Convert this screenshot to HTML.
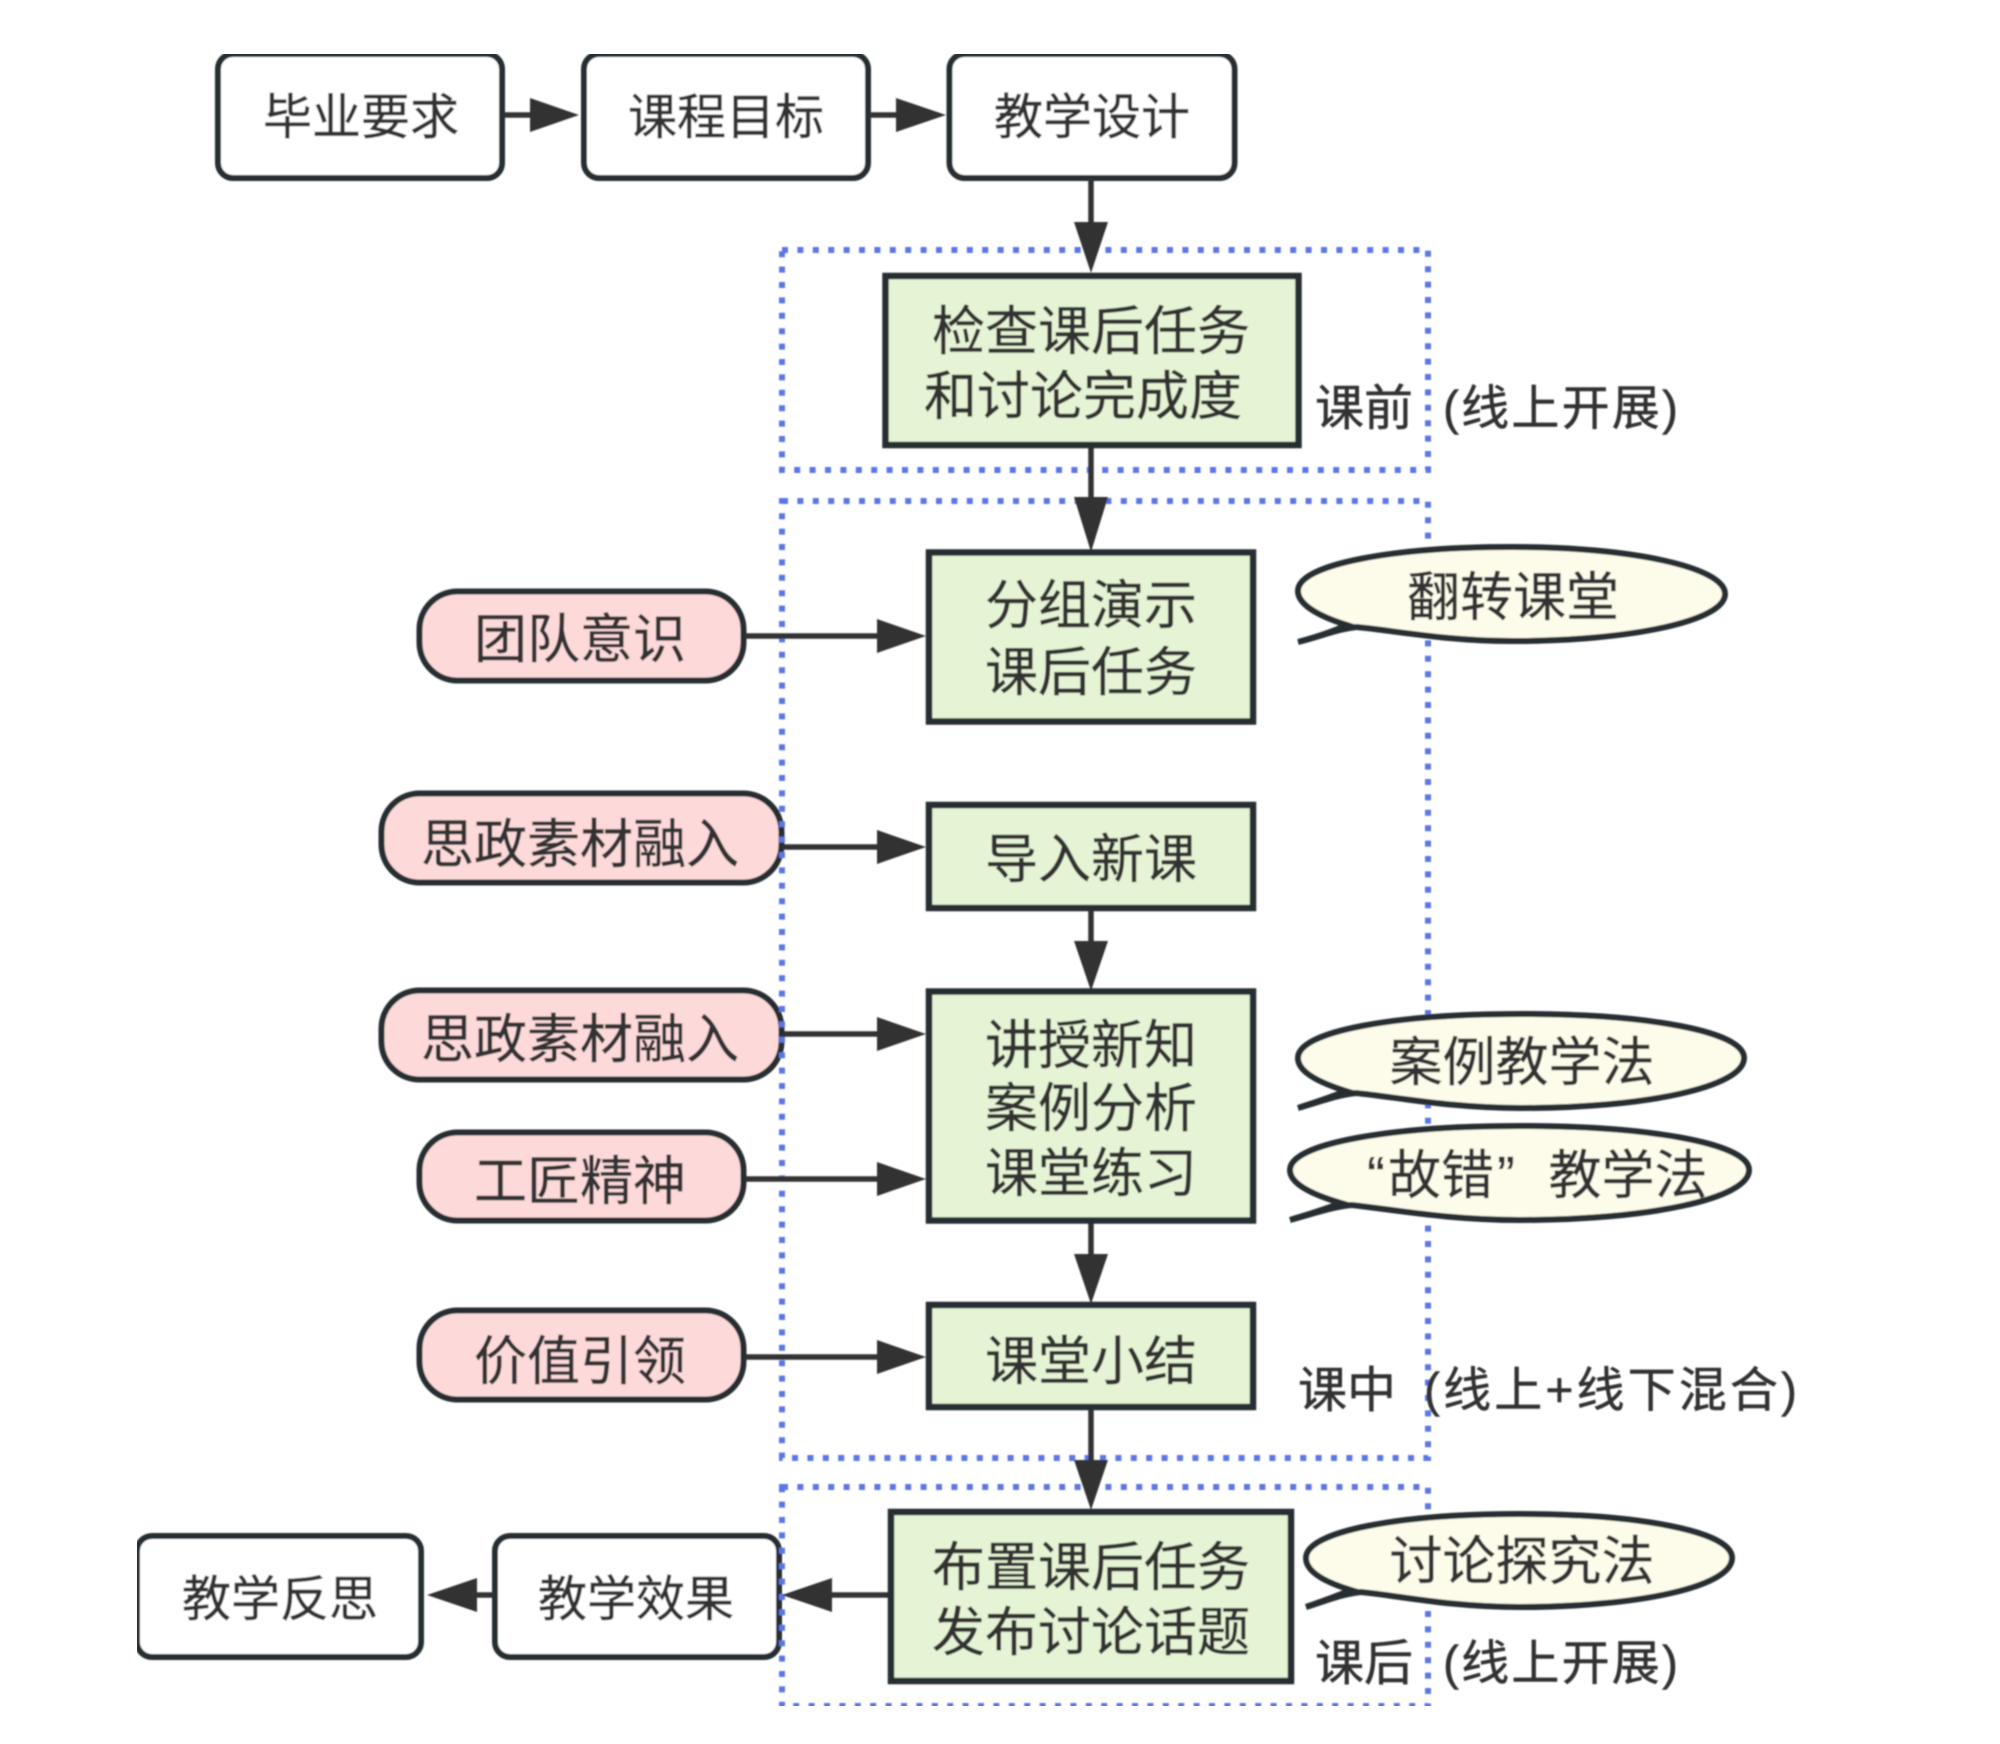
<!DOCTYPE html>
<html lang="zh">
<head>
<meta charset="utf-8">
<title>教学流程图</title>
<style>
html,body{margin:0;padding:0;background:#fff;width:2000px;height:1744px;overflow:hidden}
svg{display:block}
text{font-family:"Liberation Sans","Noto Sans CJK SC",sans-serif;font-size:53px;fill:#333;stroke:#333;stroke-width:.5;text-anchor:middle;dominant-baseline:central}
.s{font-size:49px}
.l{font-size:48px;text-anchor:start}
.m{font-size:49px;text-anchor:start}
.b{fill:#fff;stroke:#252d33;stroke-width:6}
.g{fill:#e4f4d4;stroke:#252d33;stroke-width:6.5}
.p{fill:#fdd9d9;stroke:#252d33;stroke-width:6}
.e{fill:#fdfbea;stroke:#252d33;stroke-width:6}
.d{fill:none;stroke:#5c76e6;stroke-width:6;stroke-dasharray:6 9.4}
.c{stroke:#333;stroke-width:5.5;fill:none}
.a{fill:#333}
</style>
</head>
<body>
<svg width="2000" height="1744" viewBox="0 0 2000 1744" xmlns="http://www.w3.org/2000/svg">
<defs><filter id="bl" x="0" y="0" width="100%" height="100%"><feGaussianBlur stdDeviation="0.9"/></filter></defs>
<rect width="2000" height="1744" fill="#fff"/>
<g filter="url(#bl)">
<!-- white boxes -->
<rect class="b" x="218" y="54" width="284" height="124" rx="15"/>
<rect class="b" x="584" y="54" width="284" height="124" rx="15"/>
<rect class="b" x="949.500" y="54" width="285" height="124" rx="15"/>
<rect class="b" x="137" y="1536" width="284" height="121" rx="15"/>
<rect class="b" x="495" y="1536" width="284" height="121" rx="15"/>

<!-- pink pills -->
<rect class="p" x="419.500" y="591.500" width="324" height="89" rx="38"/>
<rect class="p" x="381.500" y="793.500" width="400" height="89" rx="38"/>
<rect class="p" x="381.500" y="990.500" width="400" height="89" rx="38"/>
<rect class="p" x="419.500" y="1132.500" width="324" height="88" rx="38"/>
<rect class="p" x="419.500" y="1310.500" width="324" height="89" rx="38"/>

<!-- dotted groups -->
<rect class="d" x="782" y="250" width="646" height="220"/>
<rect class="d" x="782" y="501" width="646" height="957"/>
<rect class="d" x="782" y="1487" width="646" height="219"/>

<!-- connectors -->
<path class="c" d="M503 115H535M869 115H900M1091 178V230M1091 444V505M1091 908V945M1091 1220V1260M1091 1407V1465"/>
<path class="c" d="M745 636H880M783 847H880M783 1034H880M745 1179H880M745 1357H880M890 1595H830M494 1595H475"/>
<path class="a" d="M530 98L579 115L530 132ZM896 98L946 115L896 132Z"/>
<path class="a" d="M1074 222H1108L1091 273ZM1074 497H1108L1091 552ZM1074 941H1108L1091 991ZM1074 1254H1108L1091 1304ZM1074 1460H1108L1091 1510Z"/>
<path class="a" d="M877 619L926 636L877 653ZM877 830L926 847L877 864ZM877 1017L926 1034L877 1051ZM877 1162L926 1179L877 1196ZM877 1340L926 1357L877 1374Z"/>
<path class="a" d="M832 1578L782 1595L832 1612ZM477 1578L427 1595L477 1612Z"/>

<!-- green boxes -->
<rect class="g" x="885.500" y="276" width="413" height="169"/>
<rect class="g" x="929" y="552.500" width="324" height="169"/>
<rect class="g" x="929" y="805" width="324" height="103"/>
<rect class="g" x="929" y="991.500" width="324" height="229"/>
<rect class="g" x="929" y="1305" width="324" height="102"/>
<rect class="g" x="891" y="1512" width="400" height="169"/>

<!-- speech bubbles -->
<g transform="translate(-3,-3)"><path class="e" d="M1301 645C1320 640 1335 635 1350 628C1315 617 1301 605 1301 594C1301 567 1397 550 1515 550C1633 550 1728 570 1728 597C1728 624 1633 644 1515 644C1450 644 1400 634 1360 630C1340 632 1322 640 1301 645Z"/></g>
<g transform="translate(-9,-6)"><path class="e" d="M1307 1114C1322 1109 1338 1104 1355 1097C1320 1086 1307 1075 1307 1064C1307 1037 1405 1020 1530 1020C1655 1020 1753 1037 1753 1064C1753 1093 1655 1114 1530 1114C1460 1114 1405 1103 1365 1099C1345 1101 1325 1109 1307 1114Z"/></g>
<g transform="translate(-9,-9)"><path class="e" d="M1299 1229C1315 1224 1332 1219 1350 1212C1313 1201 1299 1190 1299 1179C1299 1152 1402 1135 1529 1135C1656 1135 1758 1152 1758 1179C1758 1208 1656 1229 1529 1229C1456 1229 1400 1218 1360 1214C1340 1216 1318 1224 1299 1229Z"/></g>
<g transform="translate(-9,-10)"><path class="e" d="M1315 1617C1329 1612 1344 1607 1360 1600C1327 1590 1315 1579 1315 1568C1315 1541 1410 1524 1528 1524C1646 1524 1741 1541 1741 1568C1741 1597 1646 1617 1528 1617C1460 1617 1410 1606 1370 1602C1350 1604 1332 1612 1315 1617Z"/></g>

<!-- text -->
<text class="s" x="361" y="118">毕业要求</text>
<text class="s" x="726" y="118">课程目标</text>
<text class="s" x="1092" y="118">教学设计</text>
<text class="s" x="280" y="1600">教学反思</text>
<text class="s" x="636" y="1600">教学效果</text>

<text x="1091" y="332">检查课后任务</text>
<text x="1083" y="397">和讨论完成度</text>
<text x="1091" y="606">分组演示</text>
<text x="1091" y="673">课后任务</text>
<text x="1091" y="860">导入新课</text>
<text x="1091" y="1046">讲授新知</text>
<text x="1091" y="1109">案例分析</text>
<text x="1091" y="1174">课堂练习</text>
<text x="1091" y="1362">课堂小结</text>
<text x="1091" y="1568">布置课后任务</text>
<text x="1091" y="1633">发布讨论话题</text>

<text x="580" y="640">团队意识</text>
<text x="580" y="845">思政素材融入</text>
<text x="580" y="1040">思政素材融入</text>
<text x="580" y="1182">工匠精神</text>
<text x="580" y="1362">价值引领</text>

<text x="1513" y="598">翻转课堂</text>
<text x="1522" y="1063">案例教学法</text>
<text x="1376" y="1176">“</text>
<text x="1441" y="1176">故错</text>
<text x="1506" y="1176">”</text>
<text x="1628" y="1176">教学法</text>
<text x="1522" y="1562">讨论探究法</text>

<text class="m" x="1315" y="409">课前</text>
<text class="l" x="1443" y="409" textLength="235">(线上开展)</text>
<text class="m" x="1298" y="1391">课中</text>
<text class="l" x="1424" y="1391" textLength="373">(线上+线下混合)</text>
<text class="m" x="1315" y="1664">课后</text>
<text class="l" x="1443" y="1664" textLength="235">(线上开展)</text>
</g>
</svg>
</body>
</html>
